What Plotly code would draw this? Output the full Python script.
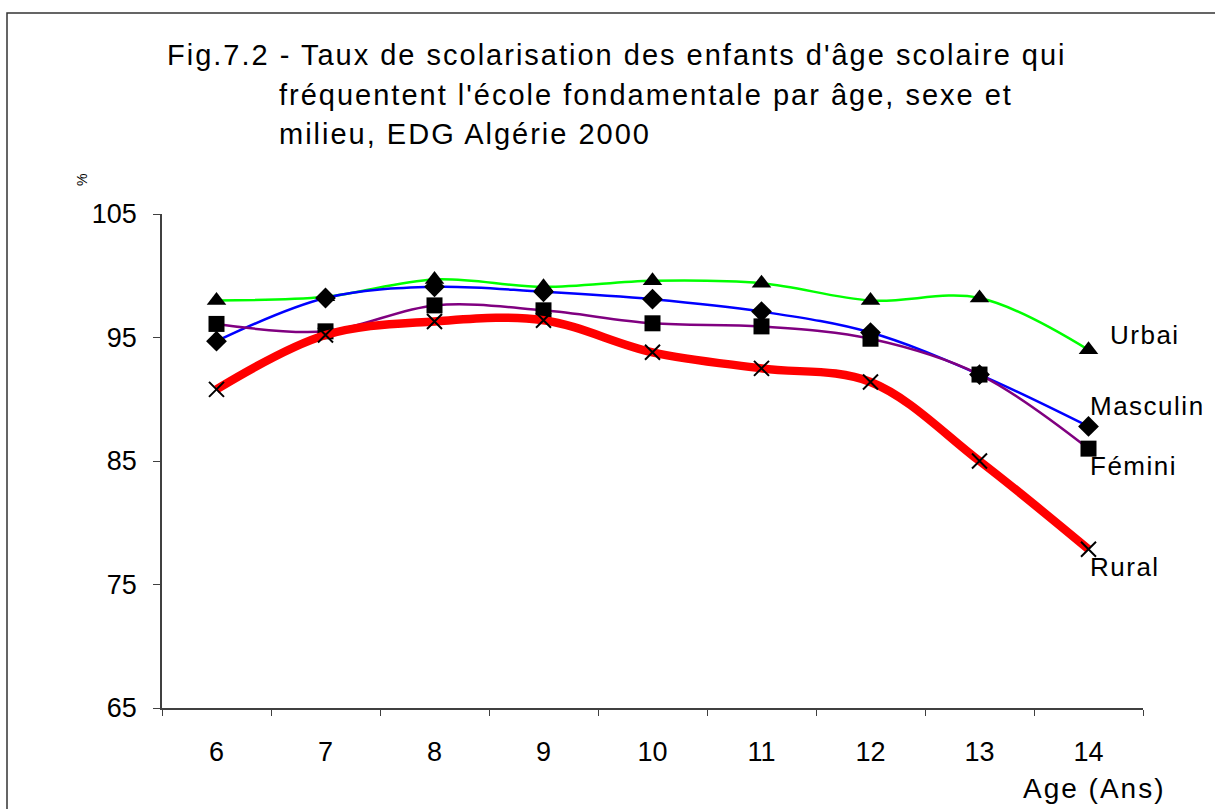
import plotly.graph_objects as go

ages = ["6", "7", "8", "9", "10", "11", "12", "13", "14"]
urbain = [98.0, 98.3, 99.7, 99.1, 99.6, 99.4, 98.0, 98.2, 94.0]
masculin = [94.7, 98.2, 99.1, 98.7, 98.1, 97.1, 95.4, 92.0, 87.8]
feminin = [96.1, 95.5, 97.6, 97.2, 96.15, 95.9, 94.9, 92.0, 86.0]
rural = [90.8, 95.2, 96.3, 96.4, 93.8, 92.5, 91.4, 85.0, 77.85]
y_ticks = [65, 75, 85, 95, 105]

FONT = "Liberation Sans, Arial, sans-serif"


def spaced(txt, sp):
    return '<span style="letter-spacing:%spx">%s</span>' % (sp, txt)


fig = go.Figure()
fig.add_trace(go.Scatter(
    x=ages, y=urbain, name="Urbain", mode="lines+markers",
    line=dict(color="#00FF00", width=2.5, shape="spline", smoothing=1.0),
    marker=dict(symbol="triangle-up", size=17, color="black")))
fig.add_trace(go.Scatter(
    x=ages, y=masculin, name="Masculin", mode="lines+markers",
    line=dict(color="#0000FF", width=2.5, shape="spline", smoothing=1.0),
    marker=dict(symbol="diamond", size=16, color="black")))
fig.add_trace(go.Scatter(
    x=ages, y=feminin, name="Féminin", mode="lines+markers",
    line=dict(color="#800080", width=2.5, shape="spline", smoothing=1.0),
    marker=dict(symbol="square", size=16, color="black")))
fig.add_trace(go.Scatter(
    x=ages, y=rural, name="Rural", mode="lines+markers",
    line=dict(color="#FF0000", width=8.5, shape="spline", smoothing=1.0),
    marker=dict(symbol="x-thin", size=15, color="black",
                line=dict(color="black", width=2))))

# end labels, anchored to the last data point of each series
last = len(ages) - 1
end_labels = [
    ("Urbai", urbain[-1], 19, 15),
    ("Masculin", masculin[-1], -1, 20),
    ("Fémini", feminin[-1], -1, -17),
    ("Rural", rural[-1], -1, -18),
]
for txt, yv, xs, ys in end_labels:
    fig.add_annotation(x=last, y=yv, xref="x", yref="y", text=spaced(txt, 1.5),
                       showarrow=False, xanchor="left", yanchor="middle",
                       xshift=xs, yshift=ys,
                       font=dict(family=FONT, size=26, color="black"))

# screen coordinates of plot area
L, R, T, B = 162, 1143, 214, 708
W, H = R - L, B - T
FIG_W, FIG_H = 1215, 809


def px(x):
    return (x - L) / W


def py(y):
    return (B - y) / H


title_lines = [
    ("Fig.7.2 - Taux de scolarisation des enfants d'âge scolaire qui", 165, 55),
    ("fréquentent l'école fondamentale par âge, sexe et", 277, 95),
    ("milieu, EDG Algérie 2000", 277, 134),
]
for txt, x0, y0 in title_lines:
    fig.add_annotation(x=px(x0), y=py(y0), xref="paper", yref="paper", text=spaced(txt, 2),
                       showarrow=False, xanchor="left", yanchor="middle",
                       font=dict(family=FONT, size=29, color="black"))

fig.add_annotation(x=px(82), y=py(180), xref="paper", yref="paper", text="%",
                   showarrow=False, textangle=-90, xanchor="center", yanchor="middle",
                   font=dict(family=FONT, size=14, color="black"))
fig.add_annotation(x=px(1168), y=py(788), xref="paper", yref="paper",
                   text=spaced("Age (Ans)", 2),
                   showarrow=False, xanchor="right", yanchor="middle",
                   font=dict(family=FONT, size=28, color="black"))

fig.add_shape(type="rect", xref="paper", yref="paper",
              x0=px(7), x1=px(1240), y0=py(13), y1=py(840),
              line=dict(color="#333333", width=1.5), fillcolor="rgba(0,0,0,0)")

fig.update_layout(
    width=FIG_W, height=FIG_H,
    margin=dict(l=L, r=FIG_W - R, t=T, b=FIG_H - B, autoexpand=False),
    paper_bgcolor="white", plot_bgcolor="white",
    showlegend=False,
    font=dict(family=FONT, size=26, color="black"),
    xaxis=dict(type="category", tickson="boundaries", ticks="outside", ticklen=6,
               tickcolor="#404040", showline=True, linecolor="#404040", linewidth=1.5,
               showgrid=False, zeroline=False, range=[-0.5, 8.5],
               ticklabelstandoff=19, tickfont=dict(family=FONT, size=27)),
    yaxis=dict(range=[65, 105], tickvals=y_ticks, ticks="outside", ticklen=7,
               tickcolor="#404040", showline=True, linecolor="#404040", linewidth=1.5,
               showgrid=False, zeroline=False, ticklabelstandoff=11,
               tickfont=dict(family=FONT, size=27)),
)

fig.write_html("out.html",
               config={"displayModeBar": False},
               post_script="document.body.style.margin='0';"
                           "document.body.style.overflow='hidden';")
